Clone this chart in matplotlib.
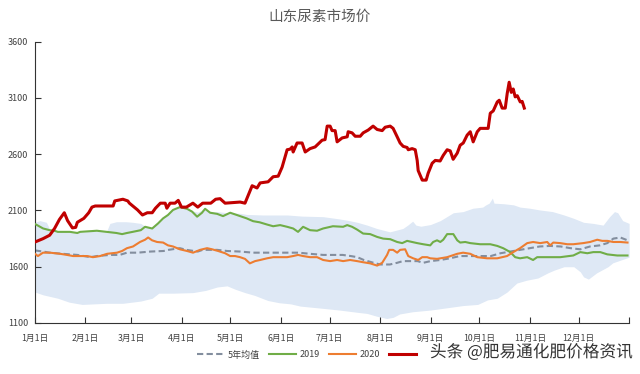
import matplotlib
matplotlib.use("Agg")
import numpy as np
import matplotlib.pyplot as plt
import matplotlib.patheffects as pe

plt.rcParams['font.family'] = ['Noto Sans CJK SC', 'DejaVu Sans']

# ---- data (day of year, price) ----
month_days = [0, 31, 59, 90, 120, 151, 181, 212, 243, 273, 304, 334, 365]
month_labels = ["1月1日", "2月1日", "3月1日", "4月1日", "5月1日", "6月1日",
                "7月1日", "8月1日", "9月1日", "10月1日", "11月1日", "12月1日", ""]

# 5-year range band
band_up_d = [0, 3, 7, 9, 12, 26, 38, 44, 46, 50, 56, 60, 65, 68, 72, 76, 79, 82, 85, 89,
             93, 97, 100, 104, 108, 112, 118, 126, 130, 140, 155, 164, 177, 187, 193, 198,
             204, 210, 214, 218, 222, 226, 229, 232, 234, 237, 243, 249, 257, 263, 269, 275,
             277, 279, 281, 282, 288, 294, 298, 304, 310, 318, 325, 331, 337, 343, 349, 353,
             356, 358, 361, 365]
band_up = [1995, 2010, 1995, 1935, 1920, 1905, 1920, 1915, 1985, 2000, 2000, 1995, 1985, 1955,
           1945, 1990, 2035, 2065, 2110, 2135, 2120, 2095, 2085, 2115, 2085, 2090, 2080, 2075,
           2065, 2060, 2060, 2050, 2045, 2025, 2010, 1995, 1970, 1940, 1925, 1910, 1925, 1940,
           1970, 2005, 1970, 1960, 1975, 2010, 2080, 2090, 2120, 2130, 2150, 2165, 2210, 2165,
           2160, 2150, 2130, 2120, 2105, 2090, 2060, 2030, 1995, 1985, 1970, 2045, 2090, 2080,
           2010, 1985]
band_lo_d = [0, 5, 14, 21, 29, 44, 54, 65, 72, 76, 85, 97, 105, 112, 118, 123, 129, 135, 143,
             150, 157, 163, 170, 177, 187, 198, 204, 210, 216, 220, 224, 232, 243, 253, 263,
             272, 278, 284, 290, 296, 302, 309, 315, 319, 325, 331, 335, 337, 340, 345, 352,
             355, 360, 365]
band_lo = [1375, 1350, 1320, 1285, 1265, 1275, 1275, 1295, 1320, 1365, 1365, 1370, 1390, 1420,
           1430, 1400, 1370, 1345, 1300, 1280, 1270, 1250, 1240, 1230, 1215, 1195, 1185, 1160,
           1140, 1150, 1180, 1200, 1215, 1235, 1255, 1265, 1305, 1320, 1375, 1455, 1480, 1500,
           1545, 1570, 1600, 1600, 1555, 1510, 1490, 1545, 1600, 1635, 1660, 1685]

avg_d = [0, 5, 9, 17, 26, 34, 38, 46, 52, 56.5, 63, 71, 79, 82, 89, 93, 100, 103, 112, 118,
         126, 134, 143, 151, 162, 169, 177, 189, 194, 198, 202, 208, 212, 218, 222.5, 226,
         230.5, 235, 238.5, 243, 249, 255, 261, 273.5, 280, 286, 292, 298, 304, 310, 316.5,
         323, 329, 335, 341, 347, 351.6, 355.3, 359.6, 364]
avg = [1745, 1735, 1725, 1715, 1705, 1685, 1695, 1705, 1705, 1725, 1725, 1735, 1740, 1750,
       1765, 1750, 1735, 1750, 1750, 1740, 1735, 1725, 1725, 1725, 1725, 1715, 1705, 1705,
       1695, 1685, 1660, 1635, 1620, 1620, 1635, 1650, 1650, 1650, 1635, 1650, 1660, 1675,
       1695, 1695, 1695, 1720, 1735, 1750, 1765, 1780, 1785, 1780, 1765, 1755, 1780, 1790,
       1810, 1850, 1860, 1835]

y2019_d = [0, 5, 9, 12, 14, 21.5, 26, 27.7, 38, 44, 50, 53.5, 56.5, 60, 65, 67.6, 72, 75.6,
           78.7, 81.7, 84.8, 89, 93.4, 96.5, 99.6, 102.6, 104.5, 107.6, 111.9, 115.5, 119.9,
           124, 130, 134, 138, 142.6, 146.3, 150.6, 154.9, 158.6, 161.6, 164.7, 169, 173.3,
           177, 183, 189.3, 191.8, 194.8, 197.9, 201.6, 205.9, 210.2, 213.9, 218.2, 222.5,
           225.6, 228.6, 231.7, 234.8, 238.5, 242.8, 244.6, 247, 249, 250.8, 253.2, 257,
           259.4, 261.2, 264.3, 267.4, 273.5, 279.7, 284, 287.6, 292, 295, 298, 302.4, 306,
           308.5, 311.6, 315.3, 322.7, 330.7, 335, 339.3, 343, 347.3, 351.6, 357.7, 364]
y2019 = [1980, 1940, 1925, 1920, 1910, 1910, 1900, 1910, 1920, 1910, 1900, 1890, 1900, 1910,
         1925, 1955, 1940, 1985, 2030, 2060, 2105, 2130, 2115, 2090, 2045, 2080, 2115, 2080,
         2070, 2050, 2080, 2060, 2030, 2005, 1995, 1975, 1960, 1970, 1955, 1940, 1910, 1955,
         1925, 1920, 1940, 1960, 1955, 1970, 1955, 1930, 1895, 1890, 1865, 1850, 1845, 1820,
         1810, 1830, 1820, 1810, 1800, 1790, 1820, 1835, 1820, 1840, 1890, 1890, 1835, 1815,
         1820, 1810, 1800, 1800, 1785, 1765, 1730, 1685, 1675, 1685, 1660, 1685, 1685, 1685,
         1685, 1700, 1730, 1720, 1730, 1730, 1710, 1700, 1700]

y2020_d = [0, 1.8, 4.9, 9.2, 15.4, 19.7, 23.4, 32, 35.6, 40, 44.3, 50.4, 53.5, 56.5, 60.2,
           64.5, 67.6, 69.5, 71.9, 75, 78.7, 81.7, 84.8, 89, 93.4, 97.1, 101.4, 105.7, 108.8,
           112.5, 116.8, 119.9, 122.9, 126, 129, 132, 135.2, 138.3, 142.6, 146.3, 150.6, 154.9,
           158.6, 161.6, 164.7, 169, 173.3, 177, 181.3, 185.6, 189.3, 193.6, 197.9, 201.6,
           205.9, 210.2, 213.3, 216.3, 217.6, 220, 222.5, 224.3, 227.4, 229.3, 232.3, 235.4,
           237.9, 240.9, 242.8, 247, 253.2, 259.4, 263, 267.4, 271.7, 277.8, 284, 290, 293.8,
           298, 302.4, 306, 310.4, 314.7, 316.5, 318.4, 322.7, 327, 330.7, 336.8, 341, 345.4,
           348.5, 351.6, 355.3, 359.6, 364]
y2020 = [1715, 1695, 1725, 1725, 1715, 1705, 1695, 1695, 1685, 1695, 1715, 1725, 1740, 1765,
         1780, 1820, 1840, 1860, 1835, 1820, 1815, 1790, 1780, 1755, 1740, 1725, 1750, 1765,
         1755, 1740, 1720, 1695, 1695, 1685, 1670, 1630, 1650, 1660, 1675, 1685, 1685, 1685,
         1695, 1705, 1695, 1685, 1685, 1660, 1650, 1660, 1650, 1660, 1650, 1640, 1630, 1610,
         1635, 1705, 1750, 1750, 1725, 1750, 1755, 1695, 1675, 1660, 1685, 1685, 1675, 1670,
         1685, 1715, 1725, 1715, 1685, 1675, 1675, 1695, 1730, 1765, 1810, 1820, 1810, 1820,
         1790, 1815, 1810, 1800, 1800, 1810, 1820, 1840, 1830, 1830, 1820, 1820, 1815]

y2021_d = [0, 5, 9, 12, 15, 17, 18, 20, 23, 25, 26, 30, 33, 35, 37, 48, 49, 54, 57, 58, 63,
           66, 69, 72, 74, 77, 80, 81, 83, 86, 88, 90, 93, 97, 100, 103, 108, 111, 113.7,
           116.8, 126, 129, 133.4, 136.4, 138.3, 143.2, 146.3, 149.4, 151.8, 154.9, 156.7,
           158, 158.6, 161, 164.1, 166, 169, 172.1, 176.4, 178.2, 179.5, 181.3, 182.5, 184.4,
           185.6, 188.7, 191.8, 192.4, 194.8, 196.7, 199.8, 201.6, 204.7, 207.7, 210.2, 213.3,
           215.1, 218.2, 220, 222.5, 224.3, 226.2, 228.6, 229.3, 231.7, 233.6, 234.8, 235.4,
           237.9, 240.3, 241.5, 244, 245.9, 248.9, 250.8, 253.2, 255.1, 256.9, 259.4, 261.2,
           263.1, 265.5, 267.4, 269.2, 271.7, 273.5, 278.4, 279.7, 281.5, 284, 285.2, 287,
           288.9, 290.1, 291.3, 292.6, 293.8, 295, 296.3, 298.1, 299.3, 300.6]
y2021 = [1820, 1850, 1880, 1940, 2020, 2060, 2080, 2010, 1945, 1950, 1995, 2030, 2080, 2130,
         2140, 2140, 2185, 2200, 2185, 2165, 2105, 2060, 2080, 2080, 2120, 2165, 2165, 2120,
         2165, 2165, 2190, 2130, 2130, 2165, 2130, 2165, 2165, 2200, 2205, 2165, 2175, 2165,
         2320, 2300, 2345, 2355, 2400, 2405, 2485, 2640, 2645, 2665, 2620, 2700, 2700, 2620,
         2650, 2665, 2725, 2730, 2850, 2850, 2810, 2810, 2710, 2745, 2755, 2800, 2790, 2760,
         2760, 2790, 2815, 2850, 2820, 2810, 2840, 2850, 2830, 2755, 2700, 2670, 2660, 2640,
         2650, 2640, 2545, 2455, 2370, 2370, 2430, 2520, 2545, 2540, 2590, 2640, 2630, 2555,
         2610, 2680, 2700, 2770, 2800, 2710, 2800, 2830, 2830, 2965, 2985, 3065, 3080, 3010,
         3010, 3140, 3240, 3150, 3180, 3110, 3120, 3065, 3070, 3010]

# ---- plot ----
fig = plt.figure(figsize=(6.4, 3.74), dpi=100)
ax = fig.add_axes([0.0547, 0.1364, 0.9283, 0.752])

# band: common x grid from both edges
xs = np.union1d(band_up_d, band_lo_d)
ax.fill_between(xs, np.interp(xs, band_lo_d, band_lo), np.interp(xs, band_up_d, band_up),
                color='#DEE8F5', lw=0, zorder=1)

l_avg, = ax.plot(avg_d, avg, color='#838E9E', lw=1.5, ls=(0, (3, 1.6)), zorder=2)
l19, = ax.plot(y2019_d, y2019, color='#70AD47', lw=1.5, zorder=3)
l20, = ax.plot(y2020_d, y2020, color='#ED7D31', lw=1.5, zorder=4)
l21, = ax.plot(y2021_d, y2021, color='#C00000', lw=2.2, zorder=5)

ax.set_xlim(0, 365)
ax.set_ylim(1100, 3600)
ax.set_yticks([1100, 1600, 2100, 2600, 3100, 3600])
ax.set_xticks(month_days)
ax.set_xticklabels(month_labels)

for s in ['top', 'right']:
    ax.spines[s].set_visible(False)
for s in ['left', 'bottom']:
    ax.spines[s].set_color('#333333')
    ax.spines[s].set_linewidth(0.8)

ax.tick_params(axis='x', direction='in', length=4, width=0.8, color='#333333',
               pad=8, labelsize=6.3, labelcolor='#404040')
ax.tick_params(axis='y', direction='in', length=4, width=0.8, color='#333333',
               pad=5, labelsize=6.5, labelcolor='#404040')

fig.text(0.5, 0.955, "山东尿素市场价", ha='center', va='center',
         fontsize=10.5, color='#595959')

leg = fig.legend([l_avg, l19, l20, l21], ["5年均值", "2019", "2020", ""],
                 loc='center', bbox_to_anchor=(0.482, 0.051), ncol=4, frameon=False,
                 fontsize=6.5, handlelength=3.0, columnspacing=1.0, handletextpad=0.4)
for t in leg.get_texts():
    t.set_color('#404040')

fig.text(0.988, 0.058, "头条 @肥易通化肥价格资讯", ha='right', va='center',
         fontsize=12, color='#333333',
         path_effects=[pe.withStroke(linewidth=2, foreground='white')])

fig.savefig("out.png", dpi=100)
